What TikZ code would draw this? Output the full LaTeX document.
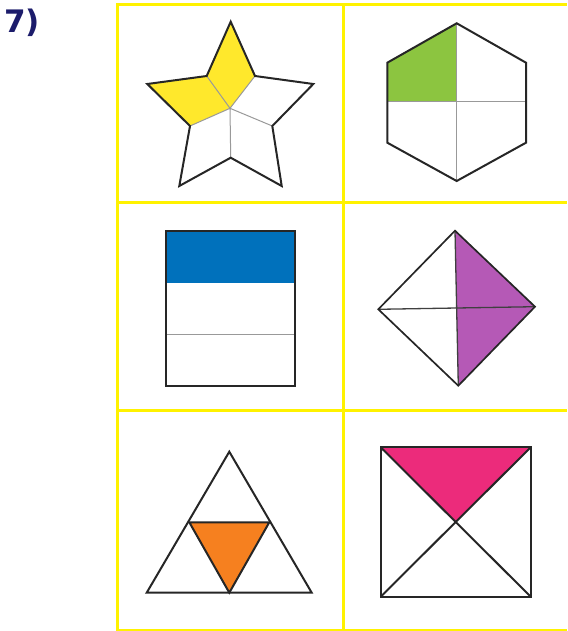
\documentclass[tikz,border=0pt]{standalone}
\usepackage{fontspec}
\newfontfamily\titlefont{DejaVu Sans}
\definecolor{gridyellow}{HTML}{FFF200}
\definecolor{staryellow}{HTML}{FFE82C}
\definecolor{hexgreen}{HTML}{8CC540}
\definecolor{rectblue}{HTML}{0071BC}
\definecolor{diapurple}{HTML}{B559B6}
\definecolor{triorange}{HTML}{F6801F}
\definecolor{sqpink}{HTML}{EC2B7B}
\definecolor{titlenavy}{HTML}{1C1C6B}

\begin{document}
\begin{tikzpicture}[x=1pt, y=-1pt,
    cellline/.style={draw=gridyellow, line width=3pt},
    outline/.style={draw=black!85, line width=2pt, line join=miter},
    split/.style={draw=black!40, line width=1pt}]
  \useasboundingbox (0,0) rectangle (567,631);
  \node[anchor=base west, inner sep=0pt, text=titlenavy, font=\titlefont\bfseries\fontsize{31}{31}\selectfont] (num) at (4,33) {7)};
  % grid
  \draw[cellline] (567,5) -- (117,5) -- (117,630) -- (567,630);
  \draw[cellline] (343,5) -- (343,630);
  \draw[cellline] (117,202.5) -- (567,202.5);
  \draw[cellline] (117,410.5) -- (567,410.5);

  % star, 2 of 5 shaded
  \coordinate (sc) at (230,108.3);
  \coordinate (s1) at (230.7,21.7);
  \coordinate (s2) at (255,76);
  \coordinate (s3) at (313.3,84);
  \coordinate (s4) at (272.3,126);
  \coordinate (s5) at (281.7,186);
  \coordinate (s6) at (230.7,157.7);
  \coordinate (s7) at (179.3,186);
  \coordinate (s8) at (190,126);
  \coordinate (s9) at (147.3,84);
  \coordinate (s10) at (206.7,76);
  \fill[staryellow] (sc) -- (s2) -- (s1) -- (s10) -- (s9) -- (s8) -- cycle;
  \draw[split] (sc) -- (s2) (sc) -- (s4) (sc) -- (s6) (sc) -- (s8) (sc) -- (s10);
  \draw[outline] (s1) -- (s2) -- (s3) -- (s4) -- (s5) -- (s6) -- (s7) -- (s8) -- (s9) -- (s10) -- cycle;

  % hexagon, 1 of 4 shaded
  \coordinate (h1) at (456.7,23.3);
  \coordinate (h2) at (526,62.7);
  \coordinate (h3) at (526,142.7);
  \coordinate (h4) at (456.7,181);
  \coordinate (h5) at (387.3,142.7);
  \coordinate (h6) at (387.3,62.7);
  \coordinate (hc) at (456.7,101.7);
  \fill[hexgreen] (h1) -- (hc) -- (387.3,101.7) -- (h6) -- cycle;
  \draw[split] (h1) -- (h4) (387.3,101.7) -- (526,101.7);
  \draw[outline] (h1) -- (h2) -- (h3) -- (h4) -- (h5) -- (h6) -- cycle;

  % rectangle, 1 of 3 shaded
  \coordinate (r1) at (166,230.7);
  \coordinate (r2) at (295,385.7);
  \fill[rectblue] (r1) rectangle (295,282.7);
  \draw[split] (166,334.3) -- (295,334.3);
  \draw[outline] (r1) rectangle (r2);

  % diamond, 2 of 4 shaded
  \coordinate (d1) at (455,230.7);
  \coordinate (d2) at (535,306.7);
  \coordinate (d3) at (458.3,385.7);
  \coordinate (d4) at (378.3,309.3);
  \fill[diapurple] (d1) -- (d2) -- (d3) -- cycle;
  \draw[draw=black!75, line width=1.3pt] (d1) -- (d3) (d4) -- (d2);
  \draw[outline, line width=1.7pt] (d1) -- (d2) -- (d3) -- (d4) -- cycle;

  % triangle, 1 of 4 shaded
  \coordinate (t1) at (229.3,451.7);
  \coordinate (t2) at (311.7,592.7);
  \coordinate (t3) at (146.7,592.7);
  \coordinate (t4) at (189.3,522.3);
  \coordinate (t5) at (269.3,522.3);
  \coordinate (t6) at (229.3,592.7);
  \fill[triorange] (t4) -- (t5) -- (t6) -- cycle;
  \draw[outline] (t4) -- (t5) -- (t6) -- cycle;
  \draw[outline] (t1) -- (t2) -- (t3) -- cycle;

  % square, 1 of 4 shaded
  \coordinate (q1) at (380.7,447.3);
  \coordinate (q2) at (530.7,447.3);
  \coordinate (q3) at (530.7,596.7);
  \coordinate (q4) at (380.7,596.7);
  \coordinate (qc) at (455.7,522);
  \fill[sqpink] (q1) -- (q2) -- (qc) -- cycle;
  \draw[outline] (q1) -- (q3) (q2) -- (q4);
  \draw[outline] (q1) -- (q2) -- (q3) -- (q4) -- cycle;
\end{tikzpicture}
\end{document}
